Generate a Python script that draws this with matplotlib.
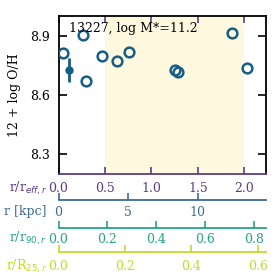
import numpy as np
import matplotlib
matplotlib.use('Agg')
import matplotlib.pyplot as plt

plt.rcParams['font.family'] = 'DejaVu Serif'
plt.rcParams['font.size'] = 9

# spaxel metallicities vs radius (r / r_eff)
r_eff = [0.05, 0.26, 0.30, 0.47, 0.63, 0.755, 1.255, 1.28, 1.865, 2.03]
oh = [8.812, 8.904, 8.668, 8.795, 8.769, 8.815, 8.724, 8.715, 8.912, 8.737]
# mean value with error
r_mean = [0.116]
oh_mean = [8.727]
oh_err = [0.06]

# conversions between radius scales
kpc_per_reff = 6.67
r90_in_reff = 2.632
r25_in_reff = 3.57
fit_range = [0.5, 2.0]

title = '13227, log M*=11.2'
xmax = 2.235

c_pt = '#175e86'
c_eff = '#5b3b8c'
c_kpc = '#3d6a96'
c_90 = '#24a584'
c_25 = '#bfdc2a'

fig = plt.figure(figsize=(2.77, 2.77), dpi=100)
W = H = 277.
left, right = 58.5 / W, 266.3 / W
ax = fig.add_axes([left, 1 - 173.5 / H, right - left, (173.5 - 16) / H])

ax.axvspan(fit_range[0], fit_range[1], color='#fdf8de', lw=0, zorder=0)
ax.plot(r_eff, oh, 'o', mfc='none', mec=c_pt, mew=1.8, ms=7, zorder=3)
ax.errorbar(r_mean, oh_mean, yerr=oh_err, fmt='o', color=c_pt, ms=5,
            elinewidth=2, capsize=0, zorder=3)

ax.set_xlim(0, xmax)
ax.set_ylim(8.2, 9.0)
ax.set_yticks([8.3, 8.6, 8.9])
ax.set_xticks([0, 0.5, 1.0, 1.5, 2.0])
ax.set_xticklabels(['0.0', '0.5', '1.0', '1.5', '2.0'])
ax.set_ylabel('12 + log O/H', labelpad=7)
ax.tick_params(axis='y', direction='in', length=6, width=1.2, right=True, pad=6)
ax.tick_params(axis='x', direction='in', length=5, width=1.2, top=True,
               colors=c_eff, pad=6)
for s in ['left', 'right', 'top']:
    ax.spines[s].set_linewidth(1.3)
ax.spines['bottom'].set_color(c_eff)
ax.spines['bottom'].set_linewidth(1.3)
# top ticks in black
for t in ax.xaxis.get_major_ticks():
    t.tick2line.set_color('k')
ax.text(0.05, 0.96, title, transform=ax.transAxes, va='top', ha='left')

fig.text(47 / W, 1 - 188 / H, r'r/r$_{eff,r}$', color=c_eff, ha='right', va='center')


def extra_axis(yline, scale, ticks, labels, color, name, pad, ylab):
    a = fig.add_axes([left, 1 - yline / H, right - left, 0.001])
    a.patch.set_visible(False)
    for s in ['left', 'right', 'top']:
        a.spines[s].set_visible(False)
    a.spines['bottom'].set_color(color)
    a.spines['bottom'].set_linewidth(1.3)
    a.set_yticks([])
    a.set_xlim(0, xmax * scale)
    a.set_xticks(ticks)
    a.set_xticklabels(labels)
    a.tick_params(axis='x', direction='in', length=5, width=1.2, colors=color, pad=pad)
    fig.text(47 / W, 1 - ylab / H, name, color=color, ha='right', va='center')
    return a


extra_axis(200, kpc_per_reff, [0, 5, 10], ['0', '5', '10'], c_kpc, 'r [kpc]', 4, 211.7)
extra_axis(227.7, 1 / r90_in_reff, [0, 0.2, 0.4, 0.6, 0.8],
           ['0.0', '0.2', '0.4', '0.6', '0.8'], c_90, r'r/r$_{90,r}$', 3.5, 238.3)
extra_axis(251.7, 1 / r25_in_reff, [0, 0.2, 0.4, 0.6],
           ['0.0', '0.2', '0.4', '0.6'], c_25, r'r/R$_{25,r}$', 6, 266.5)

fig.savefig('out.png', dpi=100)
